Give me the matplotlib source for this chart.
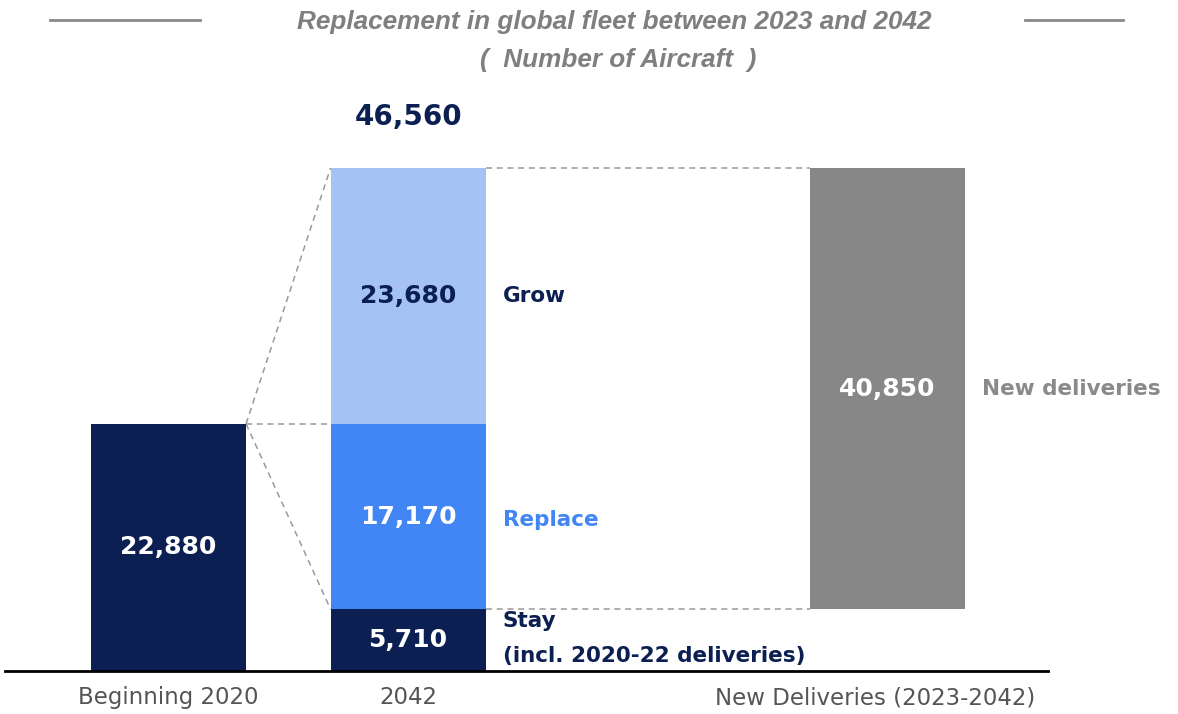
import matplotlib
matplotlib.use("Agg")
import matplotlib.pyplot as plt
from matplotlib.lines import Line2D
from matplotlib.transforms import ScaledTranslation

plt.rcParams['font.family'] = ['DejaVu Sans']

# data
categories = ['Beginning 2020', '2042', 'New Deliveries (2023-2042)']
fleet_2020 = 22880
stay = 5710
replace = 17170
grow = 23680
total_2042 = 46560
new_deliveries = 40850

navy = '#0b1f52'
light_blue = '#a4c2f4'
mid_blue = '#4285f4'
grey_bar = '#878787'

xpos = [0, 1, 3]
w = 0.647

fig = plt.figure(figsize=(11.78, 7.14), dpi=100)
ax = fig.add_axes([5 / 1178, 43 / 714, 1043 / 1178, 571 / 714])

# bars
ax.bar(xpos[0], fleet_2020, width=w, color=navy)
ax.bar(xpos[1], stay, width=w, color=navy)
ax.bar(xpos[1], replace, width=w, bottom=stay, color=mid_blue)
ax.bar(xpos[1], grow, width=w, bottom=stay + replace, color=light_blue)
ax.bar(xpos[2], new_deliveries, width=w, bottom=stay, color=grey_bar)

ax.set_xlim(-0.683, 3.672)
ax.set_ylim(0, 52853)

# dashed connectors
dash = dict(color='#9a9a9a', lw=1.1, ls=(0, (4, 3)), zorder=0)
r0 = xpos[0] + w / 2
l1 = xpos[1] - w / 2
r1 = xpos[1] + w / 2
l2 = xpos[2] - w / 2
ax.plot([r0, l1], [fleet_2020, total_2042], **dash)
ax.plot([r0, l1], [fleet_2020, stay], **dash)
ax.plot([r0, l1], [fleet_2020, fleet_2020], **dash)
ax.plot([r1, l2], [total_2042, total_2042], **dash)
ax.plot([r1, l2], [stay, stay], **dash)

# values
num = dict(ha='center', va='center', fontsize=18, fontweight='bold')
ax.text(xpos[0], fleet_2020 / 2, f'{fleet_2020:,}', color='white', **num)
ax.text(xpos[1], stay / 2, f'{stay:,}', color='white', **num)
ax.text(xpos[1], stay + replace / 2, f'{replace:,}', color='white', **num)
ax.text(xpos[1], stay + replace + grow / 2, f'{grow:,}', color=navy, **num)
ax.text(xpos[2], stay + new_deliveries / 2, f'{new_deliveries:,}', color='white', **num)
ax.annotate(f'{total_2042:,}', (xpos[1], total_2042), xytext=(0, 37),
            textcoords='offset points', ha='center', va='center',
            fontsize=20, fontweight='bold', color=navy)

# segment labels
lab = dict(ha='left', va='center', fontsize=15.5, fontweight='bold')
ax.text(r1 + 0.071, stay + replace + grow / 2, 'Grow', color=navy, **lab)
ax.text(r1 + 0.071, stay + replace / 2 - 350, 'Replace', color=mid_blue, **lab)
ax.text(r1 + 0.071, stay * 0.81, 'Stay', color=navy, **lab)
ax.text(r1 + 0.071, stay * 0.24, '(incl. 2020-22 deliveries)', color=navy, **lab)
ax.text(xpos[2] + w / 2 + 0.075, stay + new_deliveries / 2, 'New deliveries',
        color='#8a8a8a', **lab)

# axes styling
for s in ['top', 'right', 'left']:
    ax.spines[s].set_visible(False)
ax.spines['bottom'].set_linewidth(2)
ax.spines['bottom'].set_color('black')
ax.set_yticks([])
ax.set_xticks(xpos)
ax.set_xticklabels(categories, fontsize=16.5, color='#555555')
ax.tick_params(axis='x', length=0, pad=11)
last = ax.get_xticklabels()[-1]
last.set_transform(last.get_transform() + ScaledTranslation(-0.12, 0, fig.dpi_scale_trans))

# title
title_font = dict(ha='center', va='center', fontsize=18.8, fontweight='bold', style='italic',
                  color='#7f7f7f', family=['Liberation Sans', 'DejaVu Sans'])
fig.text(614 / 1178, 1 - 22 / 714, 'Replacement in global fleet between 2023 and 2042', **title_font)
fig.text(618 / 1178, 1 - 60 / 714, '(  Number of Aircraft  )', **title_font)
fig.add_artist(Line2D([50 / 1178, 200 / 1178], [1 - 20 / 714] * 2, color='#8a8a8a', lw=2))
fig.add_artist(Line2D([1025 / 1178, 1123 / 1178], [1 - 20 / 714] * 2, color='#8a8a8a', lw=2))

fig.savefig('out.png', dpi=100)
